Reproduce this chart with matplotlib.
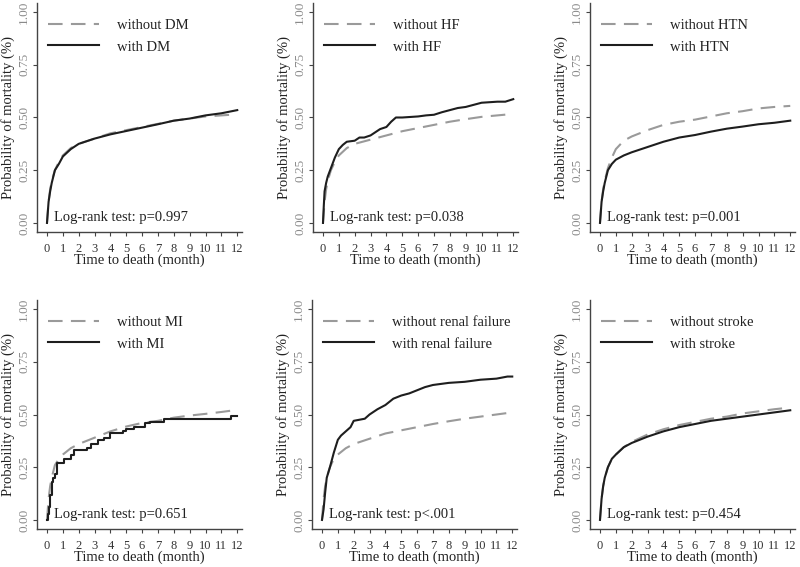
import matplotlib
matplotlib.use("Agg")
import matplotlib.pyplot as plt

plt.rcParams['font.family'] = ['Liberation Serif', 'DejaVu Serif']

# time points (months)
t_smooth = [0, 0.05, 0.1, 0.2, 0.3, 0.5, 0.75, 1, 1.5, 2, 3, 4, 5, 6, 7, 8, 9, 10, 11, 12]

# DM
dm_without = [0, 0.05, 0.10, 0.16, 0.20, 0.25, 0.29, 0.32, 0.355, 0.375, 0.40, 0.425, 0.44, 0.455, 0.47, 0.485, 0.495, 0.505, 0.51, 0.515]
dm_with = [0, 0.05, 0.10, 0.15, 0.19, 0.25, 0.28, 0.315, 0.35, 0.375, 0.40, 0.42, 0.436, 0.452, 0.468, 0.485, 0.495, 0.51, 0.52, 0.535]

# HF
hf_without = [0, 0.05, 0.10, 0.16, 0.20, 0.25, 0.29, 0.32, 0.355, 0.375, 0.395, 0.415, 0.435, 0.45, 0.465, 0.48, 0.492, 0.503, 0.51, 0.517]
t_hf = [0, 0.05, 0.1, 0.2, 0.3, 0.5, 0.75, 1, 1.25, 1.5, 2, 2.3, 2.6, 3, 3.3, 3.6, 4, 4.3, 4.6, 5, 6, 6.5, 7,
        7.5, 8, 8.5, 9, 9.5, 10, 11, 11.5, 12]
hf_with = [0, 0.08, 0.15, 0.19, 0.22, 0.26, 0.31, 0.35, 0.37, 0.385, 0.39, 0.405, 0.405, 0.415, 0.43, 0.445,
           0.455, 0.48, 0.50, 0.50, 0.505, 0.51, 0.513, 0.525, 0.535, 0.545, 0.55, 0.56, 0.57, 0.575, 0.575, 0.587]

# HTN
htn_without = [0, 0.05, 0.10, 0.16, 0.20, 0.26, 0.31, 0.35, 0.39, 0.41, 0.44, 0.465, 0.48, 0.49, 0.505, 0.52, 0.53, 0.543, 0.55, 0.555]
htn_with = [0, 0.05, 0.10, 0.15, 0.19, 0.25, 0.28, 0.30, 0.32, 0.335, 0.36, 0.385, 0.405, 0.417, 0.433, 0.447, 0.457, 0.468, 0.475, 0.485]

# MI
mi_without = [0, 0.05, 0.10, 0.16, 0.20, 0.26, 0.29, 0.31, 0.34, 0.36, 0.39, 0.42, 0.443, 0.46, 0.47, 0.485, 0.495, 0.503, 0.512, 0.522]
t_mi = [0, 0.05, 0.1, 0.2, 0.3, 0.4, 0.5, 0.6, 1.0, 1.1, 1.5, 1.7, 2.5, 2.8, 3.2, 3.6, 4.0, 4.8, 5.0, 5.5,
        6.2, 6.5, 7.4, 11.6, 12]
mi_with = [0, 0.03, 0.06, 0.12, 0.18, 0.20, 0.22, 0.27, 0.27, 0.29, 0.31, 0.33, 0.34, 0.36, 0.38, 0.39,
           0.41, 0.42, 0.43, 0.44, 0.46, 0.465, 0.48, 0.495, 0.495]

# renal failure
renal_without = [0, 0.05, 0.10, 0.16, 0.20, 0.25, 0.29, 0.31, 0.34, 0.36, 0.385, 0.41, 0.425, 0.44, 0.455, 0.468, 0.48, 0.49, 0.50, 0.51]
t_renal = [0, 0.1, 0.2, 0.3, 0.5, 0.75, 1, 1.2, 1.5, 1.8, 2, 2.7, 3, 3.5, 4, 4.5, 5, 5.5, 6, 6.5, 7, 7.5,
           8, 9, 10, 11, 11.7, 12]
renal_with = [0, 0.05, 0.13, 0.20, 0.25, 0.32, 0.38, 0.40, 0.42, 0.44, 0.47, 0.48, 0.50, 0.525, 0.545,
              0.575, 0.59, 0.60, 0.615, 0.63, 0.64, 0.645, 0.65, 0.655, 0.665, 0.67, 0.68, 0.68]

# stroke
stroke_without = [0, 0.05, 0.10, 0.16, 0.20, 0.25, 0.29, 0.31, 0.345, 0.37, 0.405, 0.43, 0.45, 0.465, 0.48, 0.49, 0.505, 0.515, 0.525, 0.533]
stroke_with = [0, 0.05, 0.10, 0.16, 0.20, 0.25, 0.29, 0.31, 0.345, 0.365, 0.395, 0.42, 0.44, 0.455, 0.47, 0.48, 0.49, 0.50, 0.51, 0.52]

# name, without-curve, with-curve, p text, step-drawn?
panels = [
    ("DM", t_smooth, dm_without, t_smooth, dm_with, "p=0.997", False),
    ("HF", t_smooth, hf_without, t_hf, hf_with, "p=0.038", False),
    ("HTN", t_smooth, htn_without, t_smooth, htn_with, "p=0.001", False),
    ("MI", t_smooth, mi_without, t_mi, mi_with, "p=0.651", True),
    ("renal failure", t_smooth, renal_without, t_renal, renal_with, "p<.001", False),
    ("stroke", t_smooth, stroke_without, t_smooth, stroke_with, "p=0.454", False),
]

# axes placement in pixels (left spine x, bottom spine y)
W, H = 800, 567
lefts = [37, 313, 590, 37, 312, 590]
bottoms = [232, 232, 232, 529, 529, 529]
ax_w, ax_h = 205, 229

fig = plt.figure(figsize=(8, 5.67), dpi=100)
fig.patch.set_facecolor('white')

for i, (name, t0, y0, t1, y1, ptxt, stepped) in enumerate(panels):
    ax = fig.add_axes([lefts[i] / W, 1 - bottoms[i] / H, ax_w / W, ax_h / H])
    ax.plot(t0, y0, color='#9a9a9a', lw=1.5, dashes=(7, 4), label='without ' + name)
    ax.plot(t1, y1, color='#1e1e1e', lw=1.5, drawstyle='steps-post' if stepped else 'default',
            label='with ' + name)

    ax.set_xlim(-0.63, 12.3)
    ax.set_ylim(-0.043, 1.043)
    ax.set_xticks(range(13))
    ax.set_yticks([0, 0.25, 0.5, 0.75, 1.0])
    ax.set_yticklabels(['0.00', '0.25', '0.50', '0.75', '1.00'], rotation=90, va='center')
    for s in ['top', 'right']:
        ax.spines[s].set_visible(False)
    for s in ['left', 'bottom']:
        ax.spines[s].set_color('#444444')
        ax.spines[s].set_linewidth(1.0)
    ax.tick_params(axis='both', direction='out', length=3, width=0.8, color='#444444')
    ax.tick_params(axis='y', labelsize=9.5, labelcolor='#8a8a8a', pad=2)
    ax.tick_params(axis='x', labelsize=9, labelcolor='#333333', pad=5)
    ax.set_xlabel('Time to death (month)', fontsize=10.5, color='#222222', labelpad=-1)
    ax.set_ylabel('Probability of mortality (%)', fontsize=10.5, color='#222222', labelpad=2)

    ax.legend(loc='upper left', bbox_to_anchor=(-0.01, 0.99), frameon=False, fontsize=10.5,
              handlelength=3.5, handletextpad=1.2, labelspacing=0.6, labelcolor='#222222')
    ax.text(0.45, 0.025, 'Log-rank test: ' + ptxt, fontsize=10.5, color='#222222', va='center', ha='left')

fig.savefig('out.png', dpi=100, facecolor='white')
